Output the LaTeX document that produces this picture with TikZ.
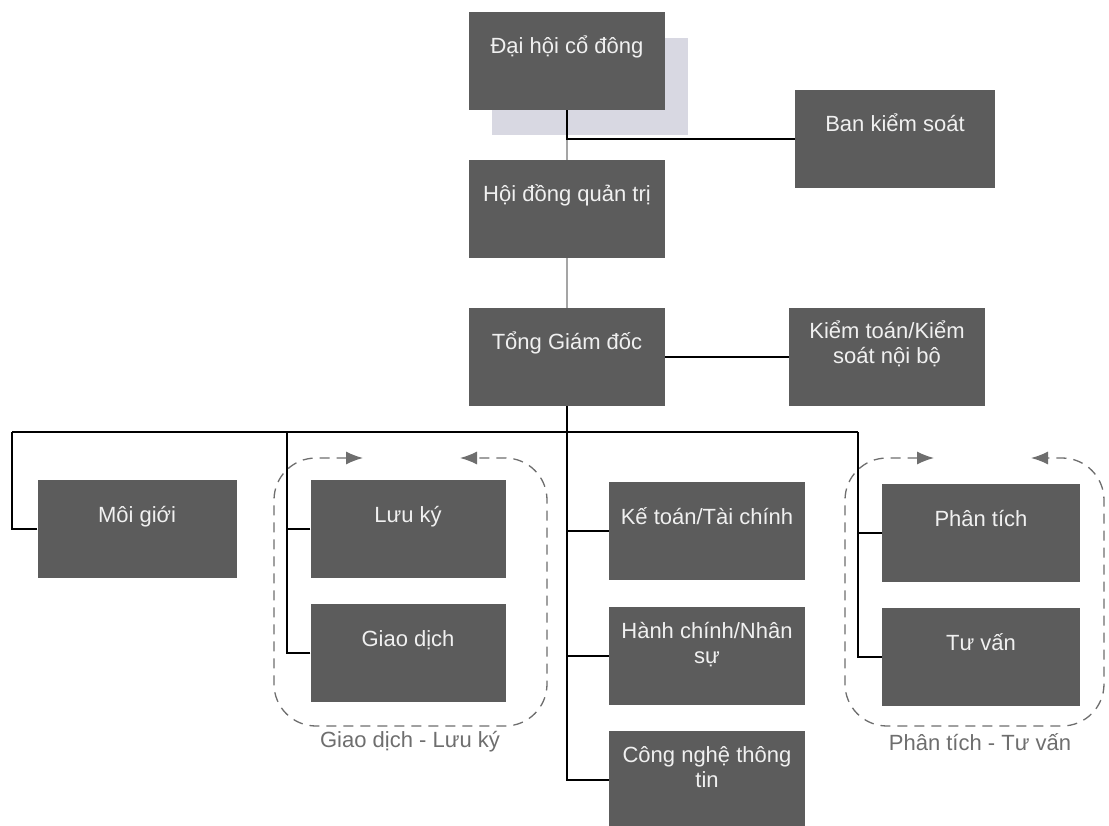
\documentclass[tikz,border=0pt]{standalone}
\usepackage{fontspec}
\setmainfont{Liberation Sans}
\usetikzlibrary{arrows.meta}
\definecolor{boxgray}{RGB}{92,92,92}
\definecolor{boxtext}{RGB}{240,240,240}
\definecolor{shadowc}{RGB}{216,216,226}
\definecolor{groupc}{RGB}{110,110,110}
\definecolor{softc}{RGB}{165,165,165}
\begin{document}
\begin{tikzpicture}[x=1pt,y=-1pt,
  box/.style={rectangle, fill=boxgray, text=boxtext, minimum width=196pt, minimum height=98pt,
    inner sep=0pt, align=center, font=\fontsize{22}{25}\selectfont, text height=16pt, text depth=30pt},
  twoline/.style={text height=30pt, text depth=16pt},
  link/.style={draw=black, line width=1.4pt},
  softlink/.style={draw=softc, line width=1.4pt},
  group/.style={draw=groupc, dash pattern=on 10pt off 7pt, line width=1.3pt, rounded corners=42pt},
  grouplabel/.style={text=groupc, font=\fontsize{22}{25}\selectfont},
  tip/.style={arrows={{Latex[length=17pt,width=13pt]}-{Latex[length=17pt,width=13pt]}}}
]
\useasboundingbox (0,0) rectangle (1109,826);
\fill[white] (0,0) rectangle (1109,826);
% shadow of the top box
\fill[shadowc] (492,38) rectangle (688,135);

\node[box] (dh) at (567,61) {Đại hội cổ đông};
\node[box, minimum width=200pt] (bks) at (895,139) {Ban kiểm soát};
\node[box] (hdqt) at (567,209) {Hội đồng quản trị};
\node[box] (tgd) at (567,357) {Tổng Giám đốc};
\node[box, twoline] (ktnb) at (887,357) {Kiểm toán/Kiểm\\soát nội bộ};
\node[box, minimum width=199pt] (mg) at (137,529) {Môi giới};
\node[box, minimum width=195pt] (lk) at (408,529) {Lưu ký};
\node[box, minimum width=195pt] (gd) at (408,653) {Giao dịch};
\node[box] (kt) at (707,531) {Kế toán/Tài chính};
\node[box, twoline] (hc) at (707,656) {Hành chính/Nhân\\sự};
\node[box, twoline] (cntt) at (707,780) {Công nghệ thông\\tin};
\node[box, minimum width=198pt] (pt) at (981,533) {Phân tích};
\node[box, minimum width=198pt] (tv) at (981,657) {Tư vấn};

% connectors
\draw[softlink] (dh.south) -- (hdqt.north);
\draw[softlink] (hdqt.south) -- (tgd.north);
\draw[link] (dh.south) |- (bks.west);
\draw[link] (tgd.east) -- (ktnb.west);

\coordinate (busL) at (12,432);
\coordinate (busA) at (287,432);
\coordinate (busR) at (858,432);
\draw[link] (busL) -- (busR);
\draw[link] (tgd.south) |- (cntt.west);
\draw[link] (tgd.south |- kt.west) -- (kt.west);
\draw[link] (tgd.south |- hc.west) -- (hc.west);
\draw[link] (mg.west) -| (busL);
\draw[link] (lk.west) -| (busA);
\draw[link] (gd.west) -| (busA);
\draw[link] (pt.west) -| (busR);
\draw[link] (tv.west) -| (busR);

% dashed groups
\draw[group, tip] (363,458) -| (274,726) -| (547,458) -- (460,458);
\draw[group, tip] (934,458) -| (845,726) -| (1104,458) -- (1031,458);
\node[grouplabel] (glk) at (410,742) {Giao dịch - Lưu ký};
\node[grouplabel] (gpt) at (980,742) {Phân tích - Tư vấn};
\end{tikzpicture}
\end{document}
